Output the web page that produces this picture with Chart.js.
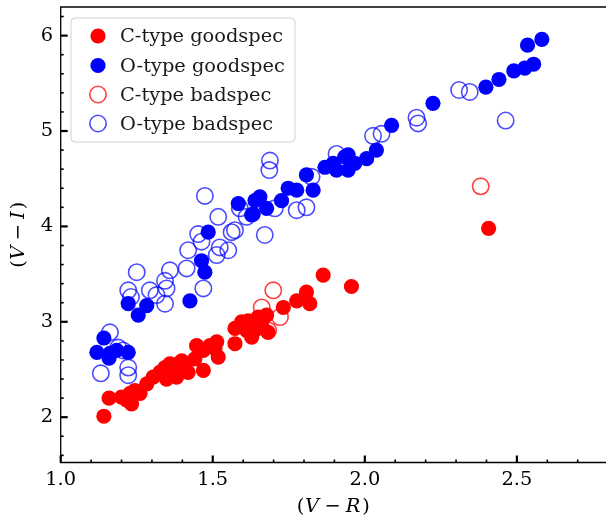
<!DOCTYPE html>
<html>
<head>
<meta charset="utf-8">
<script src="https://cdn.jsdelivr.net/npm/chart.js@4.4.0/dist/chart.umd.min.js"></script>
<style>
  html, body { margin: 0; padding: 0; background: #fff; }
</style>
</head>
<body>
<canvas id="colourChart" width="606" height="518"></canvas>
<script>
// (V-R) / (V-I) colours, split by type and spectrum quality
const cGoodVR = [1.142, 1.159, 1.200, 1.217, 1.233, 1.228, 1.244, 1.261, 1.283, 1.304,
  1.326, 1.343, 1.359, 1.370, 1.386, 1.398, 1.408, 1.381, 1.348, 1.337,
  1.419, 1.441, 1.447, 1.469, 1.469, 1.491, 1.513, 1.518, 1.507, 1.573,
  1.573, 1.595, 1.616, 1.611, 1.628, 1.638, 1.649, 1.661, 1.677, 1.682,
  1.732, 1.776, 1.808, 1.819, 1.863, 1.956, 2.407];
const cGoodVI = [2.01, 2.20, 2.21, 2.18, 2.14, 2.25, 2.28, 2.25, 2.35, 2.42,
  2.47, 2.52, 2.56, 2.51, 2.56, 2.59, 2.52, 2.42, 2.40, 2.49,
  2.47, 2.61, 2.75, 2.70, 2.49, 2.75, 2.79, 2.63, 2.72, 2.77,
  2.93, 3.00, 3.01, 2.91, 2.84, 2.91, 3.05, 2.96, 3.07, 2.89,
  3.15, 3.22, 3.31, 3.19, 3.49, 3.37, 3.98];

const oGoodVR = [1.119, 1.142, 1.162, 1.184, 1.222, 1.159, 1.222, 1.255, 1.283, 1.425,
  1.463, 1.474, 1.485, 1.584, 1.628, 1.639, 1.655, 1.633, 1.677, 1.726,
  1.748, 1.776, 1.808, 1.830, 1.869, 1.896, 1.907, 1.934, 1.945, 1.945,
  1.967, 2.006, 2.038, 2.088, 2.224, 2.398, 2.441, 2.490, 2.526, 2.555,
  2.535, 2.582];
const oGoodVI = [2.68, 2.83, 2.67, 2.70, 2.68, 2.62, 3.19, 3.07, 3.17, 3.22,
  3.64, 3.52, 3.94, 4.24, 4.12, 4.27, 4.31, 4.13, 4.19, 4.27,
  4.40, 4.38, 4.54, 4.38, 4.62, 4.66, 4.59, 4.73, 4.59, 4.75,
  4.66, 4.71, 4.80, 5.06, 5.29, 5.46, 5.54, 5.63, 5.66, 5.70,
  5.90, 5.96];

const cBadVR = [2.381, 1.699, 1.661, 1.721, 1.682];
const cBadVI = [4.42, 3.33, 3.15, 3.05, 2.91];

const oBadVR = [1.132, 1.162, 1.189, 1.222, 1.222, 1.205, 1.250, 1.222, 1.231, 1.293,
  1.315, 1.343, 1.343, 1.359, 1.348, 1.414, 1.419, 1.452, 1.463, 1.469,
  1.474, 1.518, 1.523, 1.551, 1.562, 1.513, 1.589, 1.573, 1.611, 1.671,
  1.704, 1.688, 1.686, 1.776, 1.808, 1.825, 1.907, 2.027, 2.055, 2.170,
  2.175, 2.310, 2.345, 2.463];
const oBadVI = [2.46, 2.89, 2.73, 2.52, 2.44, 2.70, 3.52, 3.33, 3.26, 3.33,
  3.28, 3.19, 3.43, 3.54, 3.35, 3.56, 3.75, 3.92, 3.84, 3.35,
  4.32, 4.10, 3.78, 3.75, 3.94, 3.70, 4.19, 3.96, 4.10, 3.91,
  4.19, 4.69, 4.59, 4.17, 4.20, 4.52, 4.76, 4.95, 4.97, 5.14,
  5.08, 5.43, 5.41, 5.11];

const seriesLabels = ["C-type goodspec", "O-type goodspec", "C-type badspec", "O-type badspec"];

const xTicks = [1.0, 1.5, 2.0, 2.5];
const yTicks = [2, 3, 4, 5, 6];

const FONT = '"DejaVu Serif", serif';
const FONT_SIZE = 19.4;
const RED = "#ff0000", BLUE = "#0000ff";
const RED_EDGE = "rgba(255, 0, 0, 0.75)", BLUE_EDGE = "rgba(0, 0, 255, 0.7)";

const toPoints = (xs, ys) => xs.map((x, i) => ({ x, y: ys[i] }));

const filled = (color) => ({
  pointRadius: 7.6, pointHoverRadius: 7.6,
  pointBackgroundColor: color, pointBorderColor: color, pointBorderWidth: 0,
});
const hollow = (color) => ({
  pointRadius: 8.2, pointHoverRadius: 8.2,
  pointBackgroundColor: "rgba(0,0,0,0)", pointBorderColor: color, pointBorderWidth: 1.6,
});

const datasets = [
  { label: seriesLabels[0], data: toPoints(cGoodVR, cGoodVI), order: 4, ...filled(RED) },
  { label: seriesLabels[1], data: toPoints(oGoodVR, oGoodVI), order: 3, ...filled(BLUE) },
  { label: seriesLabels[2], data: toPoints(cBadVR, cBadVI), order: 2, ...hollow(RED_EDGE) },
  { label: seriesLabels[3], data: toPoints(oBadVR, oBadVI), order: 1, ...hollow(BLUE_EDGE) },
];

// draws "(V − R)" style labels: [text, italic, gap before]
function drawMathLabel(ctx, parts, cx, cy, rotated) {
  ctx.save();
  ctx.translate(cx, cy);
  if (rotated) ctx.rotate(-Math.PI / 2);
  ctx.textBaseline = "middle";
  ctx.textAlign = "left";
  ctx.fillStyle = "#000";
  const fonts = parts.map(([, it]) => (it ? "italic " : "") + FONT_SIZE + "px " + FONT);
  const widths = parts.map(([t, , gap], i) => { ctx.font = fonts[i]; return ctx.measureText(t).width + gap; });
  let pos = -widths.reduce((a, b) => a + b, 0) / 2;
  parts.forEach(([t, , gap], i) => {
    ctx.font = fonts[i];
    ctx.fillText(t, pos + gap, 0);
    pos += widths[i];
  });
  ctx.restore();
}

const frameAndTicks = {
  id: "frameAndTicks",
  afterDraw(chart) {
    const { ctx, chartArea: a, scales: { x, y } } = chart;
    ctx.save();
    ctx.strokeStyle = "#000";
    ctx.lineWidth = 1.3;
    ctx.beginPath();
    ctx.moveTo(a.right, a.top);
    ctx.lineTo(a.left, a.top);
    ctx.lineTo(a.left, a.bottom);
    ctx.lineTo(a.right, a.bottom);
    ctx.stroke();

    // inward ticks, minor every 0.1 on x and 0.2 on y
    const xTick = (v, len, w) => {
      const px = x.getPixelForValue(v);
      ctx.lineWidth = w;
      ctx.beginPath(); ctx.moveTo(px, a.bottom); ctx.lineTo(px, a.bottom - len); ctx.stroke();
    };
    const yTick = (v, len, w) => {
      const py = y.getPixelForValue(v);
      ctx.lineWidth = w;
      ctx.beginPath(); ctx.moveTo(a.left, py); ctx.lineTo(a.left + len, py); ctx.stroke();
    };
    for (let i = 10; i <= 27; i++) {
      const v = i / 10;
      if (i % 5 === 0) xTick(v, 7, 2.2); else xTick(v, 3, 1.6);
    }
    for (let i = 8; i <= 31; i++) {
      const v = i / 5;
      if (v < y.min || v > y.max) continue;
      if (i % 5 === 0) yTick(v, 7, 2.2); else yTick(v, 3, 1.6);
    }
    ctx.restore();

    drawMathLabel(ctx, [["(", false, 0], ["V", true, 0.5], ["\u2212", false, 5.5], ["R", true, 5], [")", false, 2]],
      (a.left + a.right) / 2, 507, false);
    drawMathLabel(ctx, [["(", false, 0], ["V", true, 0.5], ["\u2212", false, 5.5], ["I", true, 5], [")", false, 2]],
      19, (a.top + a.bottom) / 2, true);
  },
};

// legend box in the upper-left corner of the plot
const insetLegend = {
  id: "insetLegend",
  afterDraw(chart) {
    const { ctx } = chart;
    const box = { x: 71, y: 18, w: 224, h: 124, r: 4 };
    ctx.save();
    ctx.beginPath();
    ctx.roundRect(box.x, box.y, box.w, box.h, box.r);
    ctx.fillStyle = "rgba(255,255,255,0.8)";
    ctx.fill();
    ctx.strokeStyle = "#d0d0d0";
    ctx.lineWidth = 1;
    ctx.stroke();
    const rows = [36, 65.5, 94.5, 123.5];
    datasets.forEach((ds, i) => {
      ctx.beginPath();
      ctx.arc(98, rows[i], ds.pointRadius, 0, Math.PI * 2);
      if (ds.pointBorderWidth > 0) {
        ctx.strokeStyle = ds.pointBorderColor;
        ctx.lineWidth = ds.pointBorderWidth;
        ctx.stroke();
      } else {
        ctx.fillStyle = ds.pointBackgroundColor;
        ctx.fill();
      }
      ctx.fillStyle = "#1a1a1a";
      ctx.font = FONT_SIZE + "px " + FONT;
      ctx.textBaseline = "middle";
      ctx.textAlign = "left";
      ctx.fillText(ds.label, 120, rows[i] + 1);
    });
    ctx.restore();
  },
};

new Chart(document.getElementById("colourChart"), {
  type: "scatter",
  data: { datasets },
  options: {
    responsive: false,
    animation: false,
    devicePixelRatio: 1,
    layout: { autoPadding: false, padding: { top: 7, left: 0, right: 0, bottom: 0 } },
    plugins: { legend: { display: false }, tooltip: { enabled: false } },
    scales: {
      x: {
        type: "linear",
        min: 1.0,
        max: 2.793,
        grid: { display: false, drawTicks: false },
        border: { display: false },
        afterBuildTicks: (s) => { s.ticks = xTicks.map((v) => ({ value: v })); },
        afterFit: (s) => { s.height = 55.5; s.paddingLeft = 0; s.paddingRight = 0; },
        ticks: {
          padding: 6,
          color: "#000",
          font: { family: FONT, size: FONT_SIZE },
          callback: (v) => v.toFixed(1),
        },
      },
      y: {
        type: "linear",
        min: 1.525,
        max: 6.3,
        grid: { display: false, drawTicks: false },
        border: { display: false },
        afterBuildTicks: (s) => { s.ticks = yTicks.map((v) => ({ value: v })); },
        afterFit: (s) => { s.width = 60.7; s.paddingTop = 0; s.paddingBottom = 0; },
        ticks: {
          padding: 7.5,
          color: "#000",
          font: { family: FONT, size: FONT_SIZE },
          callback: (v) => String(v),
        },
      },
    },
  },
  plugins: [frameAndTicks, insetLegend],
});
</script>
</body>
</html>
